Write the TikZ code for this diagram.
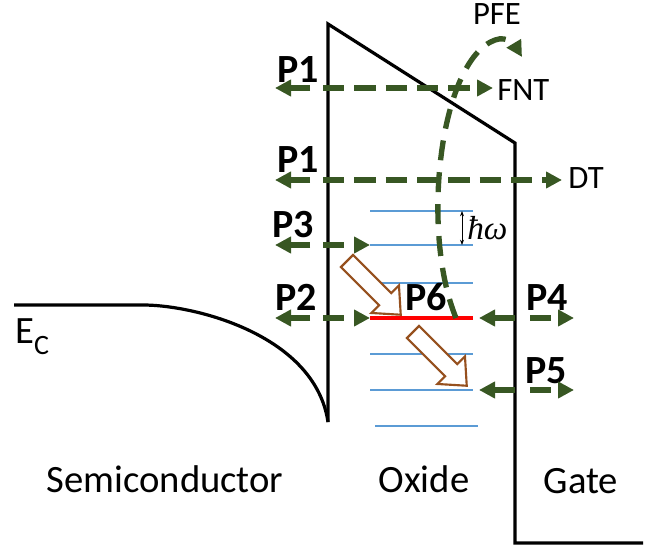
\documentclass[tikz,border=0pt]{standalone}
\usepackage{fontspec}
\setmainfont{Carlito}
\newfontfamily\quantfont{Liberation Serif}
\usetikzlibrary{arrows.meta}
\definecolor{tunnel}{RGB}{56,87,35}
\definecolor{trap}{RGB}{91,155,213}
\definecolor{hop}{RGB}{150,80,30}
\begin{document}
\begin{tikzpicture}[x=0.75pt,y=-0.75pt,
	band/.style={line width=2.4pt},
	tun/.style={tunnel,line width=4pt,dash pattern=on 16pt off 7.5pt,-{Triangle[length=12pt,width=12pt]}},
	esc/.style={tunnel,line width=4pt,-{Triangle[length=12pt,width=12pt]}},
	lvl/.style={trap,line width=2.2pt},
	hopbox/.style={hop,line width=1.6pt,fill=white,line join=miter},
	lbl/.style={font=\fontsize{29}{29}\selectfont,inner sep=0pt},
	tag/.style={font=\fontsize{30}{30}\selectfont\bfseries,inner sep=0pt,anchor=base},
	mech/.style={font=\fontsize{24.5}{24.5}\selectfont,inner sep=0pt}]
\useasboundingbox (0,0) rectangle (662,546);
% band edges
\draw[band] (14,305) -- (143,305) .. controls (195,305) and (315,335) .. (328,422);
\draw[band] (328,422) -- (328,24) -- (515,143) -- (515,543) -- (643,543);
% trap levels
\foreach \a/\y [count=\i] in {370/211,370/245,370/283,370/354,370/390,375/426}{
	\draw[lvl] (\a,\y) coordinate (L\i) -- ({\a+103},\y) coordinate (R\i);
}
\draw[red,line width=2.5pt] (370,318) coordinate (L0) -- (473,318) coordinate (R0);
\draw[{Stealth[length=4pt]}-{Stealth[length=4pt]},line width=0.6pt] (462,211) -- (462,245);
\node[anchor=west,inner sep=0pt,font=\quantfont\itshape\fontsize{25}{25}\selectfont] (hw) at (467,228) {ħω};
% labels
\node[lbl,anchor=base] (semi) at (165,492) {Semiconductor};
\node[lbl,anchor=base] (oxide) at (424,492) {Oxide};
\node[lbl,anchor=base] (gate) at (581,493) {Gate};
\node[lbl,anchor=base west] (ec) at (15,343) {E\raisebox{-0.3em}{\fontsize{21}{21}\selectfont C}};
\node[mech,anchor=base] (pfe) at (497,25) {PFE};
\node[mech,anchor=base west] (fnt) at (497,100) {FNT};
\node[mech,anchor=base west] (dt) at (568,188) {DT};
\node[tag] (p1a) at (298,82) {P1};
\node[tag] (p1b) at (298,172) {P1};
\node[tag] (p3) at (293,237) {P3};
\node[tag] (p2) at (296,310) {P2};
\node[tag] (p6) at (426,310) {P6};
\node[tag] (p4) at (547,310) {P4};
\node[tag] (p5) at (546,383) {P5};
% tunnelling paths
\draw[tun] (323,88) -- ([xshift=-3pt]fnt.west |- 0,88);
\draw[tun] (323,180) -- ([xshift=-4.5pt]dt.west |- 0,180);
\draw[tun] (323,245) -- (L2);
\draw[tun] (323,318) -- (L0);
\foreach \y in {88,180,245,318}
	\draw[esc] (310,\y) -- (275,\y);
\foreach \y in {318,390}{
	\draw[esc] (515,\y) -- (479,\y);
	\draw[tun] (530,\y) -- (574,\y);
}
\draw[tunnel,line width=4pt,dash pattern=on 15pt off 9pt,-{Triangle[length=12pt,width=12pt]}]
	(456,318) .. controls (420,230) and (440,60) .. (495,40) .. controls (508,35) and (516,47) .. (522,57);
% relaxation arrows
\foreach \x/\y in {347/261,413/332}{
	\begin{scope}[shift={(\x,\y)},rotate=-45]
	\draw[hopbox] (0,-8.5) -- (54,-8.5) -- (54,-19.5) -- (76,0) -- (54,19.5) -- (54,8.5) -- (0,8.5) -- cycle;
	\end{scope}
}
\end{tikzpicture}
\end{document}
